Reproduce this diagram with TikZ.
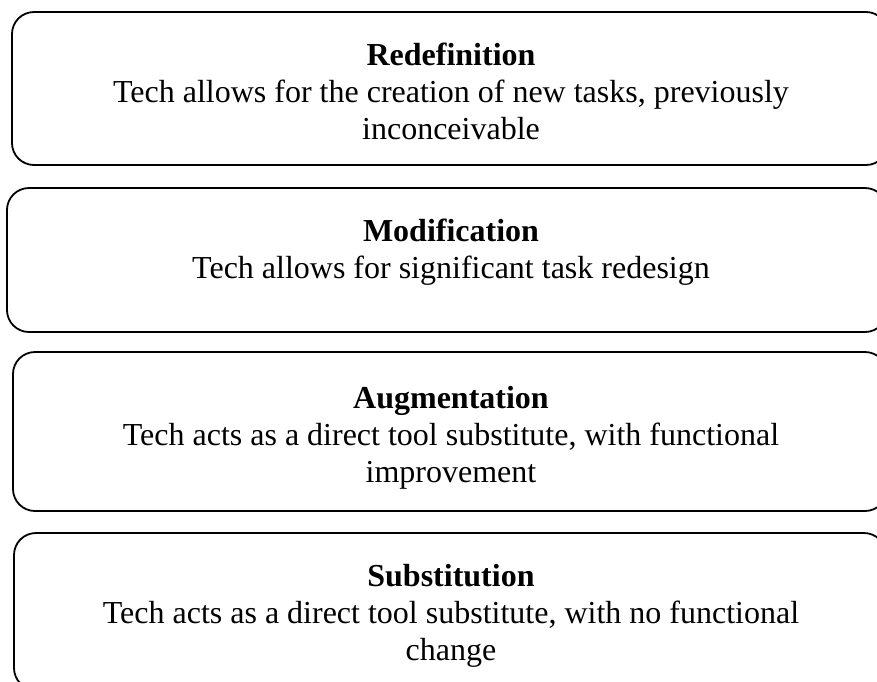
\documentclass[tikz,border=0pt]{standalone}
\usepackage{fontspec}
\setmainfont{Liberation Serif}

\tikzset{
	tier/.style = {draw, line width = 1.8pt, rounded corners = 22pt, inner sep = 0pt},
	tiertext/.style = {align = center, inner sep = 0pt, font = \fontsize{32}{36.8}\selectfont}
}

\begin{document}
\begin{tikzpicture}[x = 1pt, y = -1pt]
	\clip (0, 0) rectangle (877, 681);
	
	\node[tier, minimum width = 876pt, minimum height = 153pt] (redefbox) at (450, 88.5) {};
	\node[tier, minimum width = 880pt, minimum height = 144pt] (modbox) at (447, 260) {};
	\node[tier, minimum width = 874pt, minimum height = 159pt] (augbox) at (450, 431.5) {};
	\node[tier, minimum width = 872pt, minimum height = 157pt] (subbox) at (450, 611.5) {};
	
	\node[tiertext, anchor = north] (redeftext) at (451, 43) {\textbf{Redefinition}\\Tech allows for the creation of new tasks, previously\\inconceivable};
	\node[tiertext, anchor = north] (modtext) at (451, 219) {\textbf{Modification}\\Tech allows for significant task redesign};
	\node[tiertext, anchor = north] (augtext) at (451, 386) {\textbf{Augmentation}\\Tech acts as a direct tool substitute, with functional\\improvement};
	\node[tiertext, anchor = north] (subtext) at (451, 564) {\textbf{Substitution}\\Tech acts as a direct tool substitute, with no functional\\change};
\end{tikzpicture}
\end{document}
